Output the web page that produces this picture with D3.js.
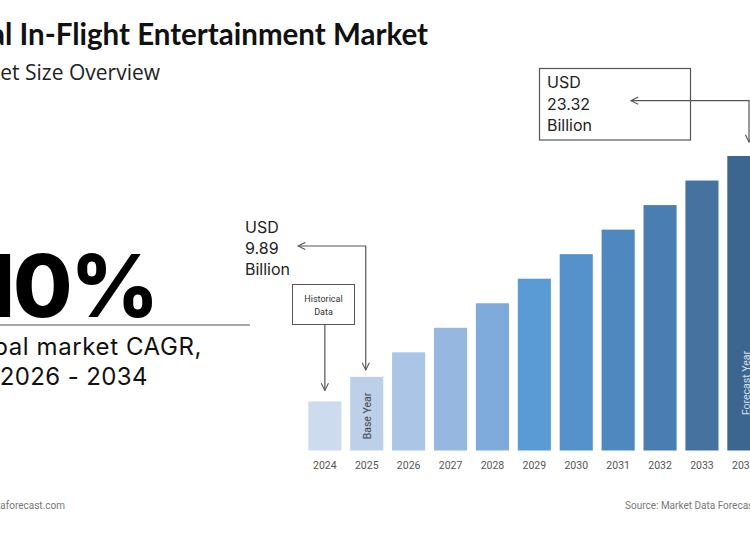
<!DOCTYPE html>
<html>
<head>
<meta charset="utf-8">
<script src="https://cdn.jsdelivr.net/npm/d3@7"></script>
<style>
  body { margin: 0; background: #fff; }
  svg { display: block; overflow: hidden; }
</style>
</head>
<body>
<script>
// Data
const years = ['2024', '2025', '2026', '2027', '2028', '2029', '2030', '2031', '2032', '2033', '2034']
// relative bar heights (stylised chart)
const barLevels = [2, 3, 4, 5, 6, 7, 8, 9, 10, 11, 12]
const barColors = ['#cddbee', '#bdd0ea', '#aac5e6', '#96b8e0', '#7eaadc', '#5b9bd5', '#5591cb', '#4f87bf', '#4a7db1', '#45729f', '#3c6690']
const baseValue = ['USD', '9.89', 'Billion']
const endValue = ['USD', '23.32', 'Billion']

const width = 750, height = 536

let svg = d3.select('body').append('svg')
    .attr('width', width)
    .attr('height', height)

// arrow head
svg.append('defs').append('marker')
    .attr('id', 'arr')
    .attr('viewBox', '0 0 10 10')
    .attr('refX', 9).attr('refY', 5)
    .attr('markerWidth', 9).attr('markerHeight', 9)
    .attr('markerUnits', 'userSpaceOnUse')
    .attr('orient', 'auto')
  .append('path')
    .attr('d', 'M1,1 L9,5 L1,9')
    .attr('fill', 'none')
    .attr('stroke', '#555')
    .attr('stroke-width', 1.2)

// Scales
const x = d3.scaleBand()
    .domain(years)
    .range([308.3, 760.4])
    .paddingInner(0.21)
    .paddingOuter(0)

const y = d3.scaleLinear()
    .domain([0, 12])
    .range([450.5, 156])

// Bars
svg.selectAll('rect.bar')
    .data(years)
    .enter().append('rect')
        .attr('class', 'bar')
        .attr('x', d => x(d))
        .attr('y', (d, i) => y(barLevels[i]))
        .attr('width', x.bandwidth())
        .attr('height', (d, i) => y(0) - y(barLevels[i]))
        .attr('fill', (d, i) => barColors[i])

// x axis labels (no line)
const xAxis = svg.append('g')
    .attr('transform', `translate(0,${y(0)})`)
    .call(d3.axisBottom(x).tickSize(0).tickPadding(11))
xAxis.select('.domain').remove()
xAxis.selectAll('text')
    .attr('fill', '#555')
    .style('font-family', 'Roboto, sans-serif')
    .style('font-size', '10.5px')

// rotated labels in bars
svg.append('text')
    .attr('transform', `translate(${x('2025') + x.bandwidth() / 2 + 4},416) rotate(-90)`)
    .attr('text-anchor', 'middle')
    .attr('fill', '#444')
    .style('font-family', 'Roboto, sans-serif')
    .style('font-size', '10.5px')
    .text('Base Year')

svg.append('text')
    .attr('transform', `translate(${x('2034') + x.bandwidth() / 2 + 6},383) rotate(-90)`)
    .attr('text-anchor', 'middle')
    .attr('fill', '#d3dfee')
    .style('font-family', 'Roboto, sans-serif')
    .style('font-size', '10.5px')
    .text('Forecast Year')

// Titles
svg.append('text')
    .attr('x', 428).attr('y', 45)
    .attr('text-anchor', 'end')
    .style('font-family', 'Lato, sans-serif')
    .style('font-weight', 700)
    .style('font-size', '29.5px')
    .attr('fill', '#111')
    .text('Global In-Flight Entertainment Market')

svg.append('text')
    .attr('x', 160).attr('y', 80)
    .attr('text-anchor', 'end')
    .style('font-family', '"Open Sans", sans-serif')
    .style('font-size', '21px')
    .attr('fill', '#222')
    .text('Market Size Overview')

// CAGR block
svg.append('text')
    .attr('x', 157).attr('y', 317)
    .attr('text-anchor', 'end')
    .style('font-family', 'Inter, sans-serif')
    .style('font-weight', 800)
    .style('font-size', '86px')
    .style('letter-spacing', '-2px')
    .attr('fill', '#000')
    .text('10%')

svg.append('line')
    .attr('x1', 0).attr('x2', 250)
    .attr('y1', 325).attr('y2', 325)
    .attr('stroke', '#888')
    .attr('stroke-width', 1.5)

svg.append('text')
    .attr('x', 202).attr('y', 355)
    .attr('text-anchor', 'end')
    .style('font-family', 'Inter, sans-serif')
    .style('font-size', '24px')
    .style('letter-spacing', '0.6px')
    .attr('fill', '#111')
    .text('Global market CAGR,')

svg.append('text')
    .attr('x', 148).attr('y', 385)
    .attr('text-anchor', 'end')
    .style('font-family', 'Inter, sans-serif')
    .style('font-size', '24px')
    .style('letter-spacing', '0.4px')
    .attr('fill', '#111')
    .text('2026 - 2034')

// Base year annotation
svg.append('g').selectAll('text')
    .data(baseValue)
    .enter().append('text')
        .attr('x', 245)
        .attr('y', (d, i) => 233 + i * 20.8)
        .style('font-family', 'Inter, sans-serif')
        .style('font-size', '16px')
        .attr('fill', '#222')
        .text(d => d)

const bx = x('2025') + x.bandwidth() / 2 - 1
svg.append('path')
    .attr('d', `M${bx},${y(barLevels[1]) - 7} L${bx},246 L298,246`)
    .attr('fill', 'none')
    .attr('stroke', '#555')
    .attr('stroke-width', 1.2)
svg.append('line')
    .attr('x1', bx).attr('x2', bx)
    .attr('y1', 300).attr('y2', y(barLevels[1]) - 7)
    .attr('stroke', 'none')
    .attr('marker-end', 'url(#arr)')
svg.append('line')
    .attr('x1', 320).attr('x2', 298)
    .attr('y1', 246).attr('y2', 246)
    .attr('stroke', 'none')
    .attr('marker-end', 'url(#arr)')

// Historical data box
svg.append('rect')
    .attr('x', 292.5).attr('y', 284.5)
    .attr('width', 62).attr('height', 40)
    .attr('fill', '#fff')
    .attr('stroke', '#555')
    .attr('stroke-width', 1)
svg.append('g').selectAll('text')
    .data(['Historical', 'Data'])
    .enter().append('text')
        .attr('x', 323.5)
        .attr('y', (d, i) => 302 + i * 12.5)
        .attr('text-anchor', 'middle')
        .style('font-family', 'Roboto, sans-serif')
        .style('font-size', '9px')
        .attr('fill', '#333')
        .text(d => d)
const hx = x('2024') + x.bandwidth() / 2
svg.append('line')
    .attr('x1', hx).attr('x2', hx)
    .attr('y1', 325).attr('y2', y(barLevels[0]) - 11)
    .attr('stroke', '#555')
    .attr('stroke-width', 1.2)
    .attr('marker-end', 'url(#arr)')

// End year annotation box
svg.append('rect')
    .attr('x', 539.5).attr('y', 68.5)
    .attr('width', 151).attr('height', 71.5)
    .attr('fill', 'none')
    .attr('stroke', '#555')
    .attr('stroke-width', 1.2)
svg.append('g').selectAll('text')
    .data(endValue)
    .enter().append('text')
        .attr('x', 547)
        .attr('y', (d, i) => 88 + i * 21.5)
        .style('font-family', 'Inter, sans-serif')
        .style('font-size', '16px')
        .attr('fill', '#222')
        .text(d => d)

const ex = 749
svg.append('path')
    .attr('d', `M631,100.7 L${ex},100.7 L${ex},${y(barLevels[10]) - 14}`)
    .attr('fill', 'none')
    .attr('stroke', '#555')
    .attr('stroke-width', 1.2)
svg.append('line')
    .attr('x1', 660).attr('x2', 631)
    .attr('y1', 100.7).attr('y2', 100.7)
    .attr('stroke', 'none')
    .attr('marker-end', 'url(#arr)')
svg.append('line')
    .attr('x1', ex).attr('x2', ex)
    .attr('y1', 110).attr('y2', y(barLevels[10]) - 14)
    .attr('stroke', 'none')
    .attr('marker-end', 'url(#arr)')

// Footer
svg.append('text')
    .attr('x', 65).attr('y', 509)
    .attr('text-anchor', 'end')
    .style('font-family', 'Roboto, sans-serif')
    .style('font-size', '10px')
    .attr('fill', '#777')
    .text('www.marketdataforecast.com')

svg.append('text')
    .attr('x', 625).attr('y', 509)
    .style('font-family', 'Roboto, sans-serif')
    .style('font-size', '10px')
    .attr('fill', '#777')
    .text('Source: Market Data Forecast')
</script>
</body>
</html>
